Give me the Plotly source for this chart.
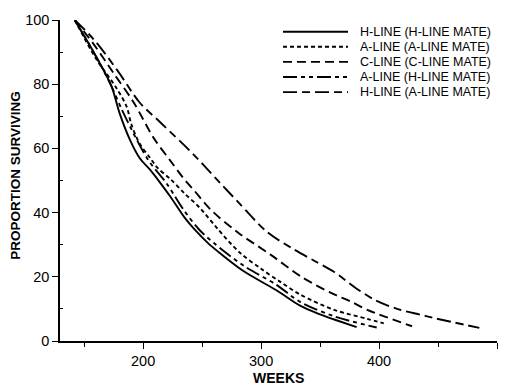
import plotly.graph_objects as go

# ---- data (weeks, proportion surviving) ----
hh_weeks = [142, 158, 173, 180, 189, 197, 206, 214, 223, 235, 243, 255, 263, 285, 313, 333, 350, 362, 381]
hh_surv  = [100, 90, 79.5, 71, 62.5, 57, 53.3, 49.5, 45, 38.5, 35, 30.5, 28, 21.8, 15.8, 11, 8.3, 6.7, 4.3]

aa_weeks = [142, 160, 177, 186, 190, 197, 206, 212, 223, 235, 248, 263, 282, 300, 316, 333, 362, 390, 404]
aa_surv  = [100, 88, 79, 73, 67.5, 61.5, 57, 54, 50.5, 46, 41.5, 35, 27.5, 22.5, 18.5, 14.5, 9.7, 6.9, 5.5]

cc_weeks = [142, 158, 175, 192, 209, 223, 234, 243, 257, 280, 308, 335, 362, 376, 390, 428]
cc_surv  = [100, 92.5, 83.4, 74.3, 63.2, 56.2, 50.8, 47, 41, 33.9, 26.9, 19.8, 14.5, 12.3, 9.7, 4.6]

ah_weeks = [142, 158, 173, 182, 190, 200, 206, 220, 235, 248, 260, 285, 313, 333, 362, 398]
ah_surv  = [100, 90, 79.5, 72, 66, 59, 55.5, 49, 40.5, 34.5, 30.5, 23.5, 17.5, 12.2, 7.7, 4.2]

ha_weeks = [142, 158, 178, 197, 214, 243, 263, 280, 305, 328, 345, 362, 381, 398, 418, 435, 446, 485]
ha_surv  = [100, 94, 84.4, 74.3, 68.3, 58, 50.1, 43.5, 34, 28.5, 25, 21.5, 16.3, 12.5, 9.7, 8.2, 7.2, 4.1]

labels = ["H-LINE (H-LINE MATE)", "A-LINE (A-LINE MATE)", "C-LINE (C-LINE MATE)",
          "A-LINE (H-LINE MATE)", "H-LINE (A-LINE MATE)"]
dashes = ["solid", "4px,3px", "9px,5px", "14px,4px,4px,4px,4px,4px", "14px,5px,8px,5px"]
series = [(hh_weeks, hh_surv), (aa_weeks, aa_surv), (cc_weeks, cc_surv),
          (ah_weeks, ah_surv), (ha_weeks, ha_surv)]

x_ticks = [200, 300, 400, 500]
y_ticks = [0, 20, 40, 60, 80, 100]

FONT = "Liberation Sans, Arial, sans-serif"

fig = go.Figure()
for (xs, ys), name, d in zip(series, labels, dashes):
    fig.add_trace(go.Scatter(x=xs, y=ys, mode="lines", name=name,
                             line=dict(color="black", width=1.9, dash=d,
                                       shape="spline", smoothing=0.9),
                             showlegend=False))

# manual legend (line samples + labels), in paper coordinates
W, H, L, T = 437.0, 329.5, 60.0, 12.0
def px2paper(px, py):
    return (px - L) / W, (T + H - py) / H

rows = [24, 39.5, 55, 70.5, 86]
for py, name, d in zip(rows, labels, dashes):
    x0, y0 = px2paper(283, py)
    x1, _ = px2paper(348, py)
    fig.add_shape(type="line", xref="paper", yref="paper", x0=x0, x1=x1, y0=y0, y1=y0,
                  line=dict(color="black", width=1.9, dash=d))
    tx, _ = px2paper(358, py)
    fig.add_annotation(xref="paper", yref="paper", x=tx, y=y0, text=name,
                       showarrow=False, xanchor="left", yanchor="middle",
                       font=dict(family=FONT, size=12.5, color="black"))

xt, yt = px2paper(16, 172)
fig.add_annotation(xref="paper", yref="paper", x=xt, y=yt, text="<b>PROPORTION SURVIVING</b>",
                   textangle=-90, showarrow=False, xanchor="center", yanchor="middle",
                   font=dict(family=FONT, size=13.5, color="black"))
xt, yt = px2paper(278, 379)
fig.add_annotation(xref="paper", yref="paper", x=xt, y=yt, text="<b>WEEKS</b>",
                   showarrow=False, xanchor="center", yanchor="middle",
                   font=dict(family=FONT, size=14, color="black"))

fig.update_layout(
    width=509, height=391,
    margin=dict(l=60, r=12, t=12, b=49.5),
    paper_bgcolor="white", plot_bgcolor="white",
    font=dict(family=FONT, size=14.5, color="black"),
    showlegend=False,
)
fig.update_xaxes(range=[129.5, 500], tickvals=x_ticks, showline=True, linecolor="black",
                 linewidth=1.5, ticks="outside", ticklen=6, tickwidth=1.2, tickcolor="black",
                 showgrid=False, zeroline=False,
                 minor=dict(tickvals=[150, 250, 350, 450], ticks="outside", ticklen=4,
                            tickwidth=1, tickcolor="black", showgrid=False))
fig.update_yaxes(range=[0, 100], tickvals=y_ticks, showline=True, linecolor="black",
                 linewidth=1.5, ticks="outside", ticklen=6, tickwidth=1.2, tickcolor="black",
                 showgrid=False, zeroline=False,
                 minor=dict(tickvals=[10, 30, 50, 70, 90], ticks="inside", ticklen=3,
                            tickwidth=1, tickcolor="black", showgrid=False))

fig.write_html("out.html")
